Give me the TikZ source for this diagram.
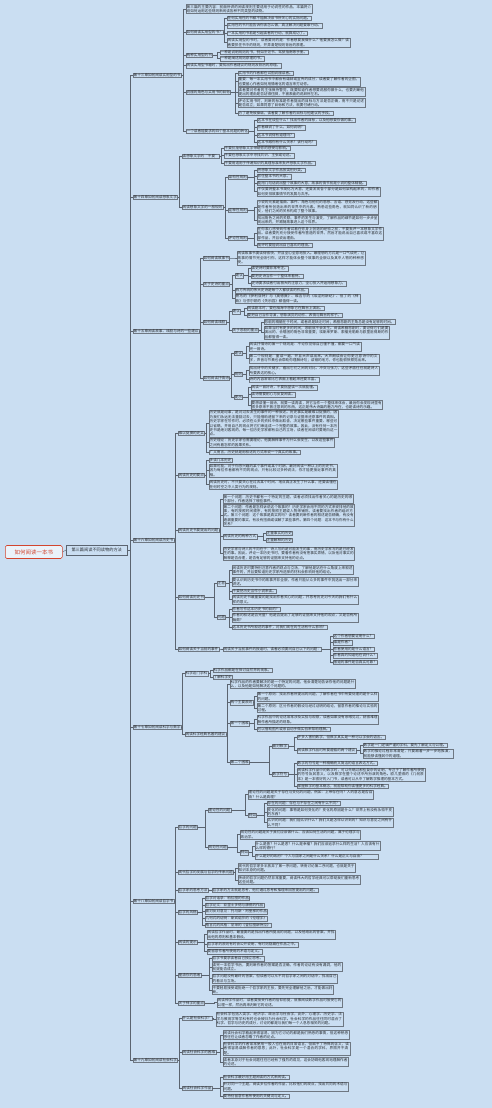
\documentclass[tikz,border=0pt]{standalone}
\usepackage{fontspec}
\usepackage{xcolor}
\usepackage{tikz}
\newfontfamily\cjk{Noto Sans CJK SC}
\XeTeXlinebreaklocale "zh"
\XeTeXlinebreakskip=0pt plus 1pt
\definecolor{bgblue}{HTML}{CADEF2}
\definecolor{linegray}{HTML}{5B6470}
\definecolor{boxgray}{HTML}{6E7782}
\definecolor{textdark}{HTML}{2A2E33}
\definecolor{rootred}{HTML}{D2452F}
\tikzset{
  root/.style={
    rectangle, rounded corners=1.5pt, anchor=west,
    minimum width=57pt, minimum height=13pt,
    draw=rootred, line width=0.6pt, fill=white!60!bgblue,
    text=rootred, font=\cjk\fontsize{5.5}{6.5}\selectfont,
  },
  part/.style={
    rectangle, anchor=west,
    minimum width=61pt, minimum height=9pt,
    draw=linegray, line width=0.4pt,
    text=textdark, font=\cjk\fontsize{4.2}{5}\selectfont,
  },
  topic/.style={
    rectangle, anchor=west, inner sep=0.6pt, align=left,
    draw=boxgray, line width=0.25pt,
    text=textdark, font=\cjk\fontsize{3.6}{4.4}\selectfont,
  },
  chapter/.style={topic},
  leaf/.style={topic},
  link/.style={draw=linegray, line width=0.35pt},
}

\begin{document}
\begin{tikzpicture}[x=1pt,y=-1pt]
  \fill[bgblue] (0,0) rectangle (492,1108);
  \useasboundingbox (0,0) rectangle (492,1108);

  \node[root] (book) at (5,552) {如何阅读一本书};
  \node[part] (part3) at (66,550) {第三篇阅读不同读物的方法};

  % chapter 13
  \node[chapter] (c13) at (133,75) {第十三章如何阅读实用型的书};
  \node[leaf,text width=125pt] (c13a) at (186,9) {第三篇的主要内容：前面所讲的阅读规则主要适用于论说性的作品，本篇将介绍如何运用这些规则来阅读各种不同类型的读物。};
  \node[topic] (c13b) at (186,32) {如何阅读实用型的书？};
  \node[leaf] (c13b1) at (227,18) {任何实用性的书都不能解决该书所关心的实际问题。};
  \node[leaf] (c13b2) at (227,25.5) {实用性的书只能告诉你该怎么做，真正解决问题要靠行动。};
  \node[leaf] (c13b3) at (227,33) {一本实用的书若是引起读者的行动，就算成功了。};
  \node[leaf,text width=122pt] (c13b4) at (227,42.5) {阅读实用型的书时，读者要问的是：作者想要我做什么？他要我怎么做？读者要抓住书中的规则，并弄清楚规则背后的原理。};
  \node[topic] (c13c) at (186,55) {两种实用型的书};
  \node[leaf] (c13c1) at (220,52) {一种是说明规则的书，例如烹饪书、驾驶指南等手册。};
  \node[leaf] (c13c2) at (220,58.5) {一种是阐述规则原理的书。};
  \node[leaf] (c13d) at (186,65.5) {阅读实用型书籍时，要找出作者建议的规则及背后的原理。};
  \node[topic] (c13e) at (186,92) {说服的角色与实用书的目标};
  \node[leaf] (c13e1) at (238,73) {实用书的作者都在试图说服读者。};
  \node[leaf,text width=121pt] (c13e2) at (238,81.5) {重要：每一本实用书中都会有雄辩或宣传的成分，读者要了解作者的企图，也要留心作者如何用情绪化的语言来打动你。};
  \node[leaf,text width=126pt] (c13e3) at (238,92) {读者要对作者的主张保持警觉，既要知道作者想要说服你做什么，也要判断他提出的理由是否站得住脚，不被表面的说辞所左右。};
  \node[leaf,text width=126pt] (c13e4) at (238,103) {评论实用书时，判断的标准是作者提出的目标与方法是否正确，而不只是论述是否成立；如果同意了目标和方法，就要付诸行动。};
  \node[leaf] (c13e5) at (238,113) {为了避免被操纵，读者要了解作者的目标与他建议的手段。};
  \node[topic] (c13f) at (186,131) {一个读者能要求的四个基本问题的转化};
  \node[leaf] (c13f1) at (257,120) {这本书在谈些什么？找出作者的目标，以及他想要你做的事。};
  \node[leaf] (c13f2) at (257,127.5) {作者细说了什么，如何说明？};
  \node[leaf] (c13f3) at (257,135) {这本书说得有道理吗？};
  \node[leaf] (c13f4) at (257,142.5) {这本书跟你有什么关系？该行动吗？};

  % chapter 14
  \node[chapter] (c14) at (133,197) {第十四章如何阅读想象文学};
  \node[topic] (c14a) at (182,156) {读想象文学的“不要”};
  \node[leaf] (c14a1) at (224,148) {不要抗拒想象文学带给你的感受与影响。};
  \node[leaf] (c14a2) at (224,155.5) {不要在想象文学中寻找共识、主张或论述。};
  \node[leaf] (c14a3) at (224,163) {不要用适用于传递知识的真理标准来批评想象文学作品。};
  \node[topic] (c14b) at (182,207) {阅读想象文学的一般规则};
  \node[topic] (c14b1) at (228,177) {架构性规则};
  \node[leaf] (c14b11) at (257,170) {将想象文学作品按类别分类。};
  \node[leaf] (c14b12) at (257,176.5) {抓住整本书的大意。};
  \node[leaf] (c14b13) at (257,183) {能用几句话说出整个故事的大意，故事的情节就是小说的整体精髓。};
  \node[leaf,text width=122pt] (c14b14) at (257,191.5) {不仅要将整本书简化为大意，还要发现各个部分是如何架构起来的，即作者如何安排故事情节的发展与次序。};
  \node[topic] (c14b2) at (228,210) {诠释性规则};
  \node[leaf,text width=120pt] (c14b21) at (257,207) {小说的元素是插曲、事件、角色与他们的思想、言语、感觉及行动，这些都是作者所创造出来的世界中的元素。熟悉这些角色，就如同认识了新的朋友，他们之间的关系构成了整个故事。};
  \node[leaf,text width=120pt] (c14b22) at (257,220) {找出角色之间的关联、事件的发生与演变，了解作品的细节是如何一步步呈现出来的，并跟随故事进入这个世界。};
  \node[topic] (c14b3) at (228,238) {评论性规则};
  \node[leaf,text width=125pt] (c14b31) at (257,233.5) {在你衷心感受到作者试着在你身上创造的经验之前，不要批评一本想象文学作品。读者要先充分接受作者所营造的世界，然后才能说出自己喜欢或不喜欢这部作品，并且说出理由。};
  \node[leaf] (c14b32) at (257,245) {批评时要能说出自己喜欢的理由。};

  % chapter 15
  \node[chapter] (c15) at (133,331) {第十五章阅读故事、戏剧与诗的一些建议};
  \node[topic] (c15a) at (203,258) {如何阅读故事书};
  \node[leaf,text width=127pt] (c15a1) at (237,258) {阅读故事书要读得很快，并且全心全意地投入。最理想的方式是一口气读完，让故事的情节完全吸引你，这样才能体会整个故事的全貌以及其中人物的种种感受。};
  \node[topic] (c15b) at (203,284) {关于史诗的重点};
  \node[topic] (c15b1) at (235,275.5) {建议};
  \node[leaf] (c15b11) at (251,268.5) {读史诗时要非常专注。};
  \node[leaf] (c15b12) at (251,276) {要把史诗当作一个整体来看待。};
  \node[leaf] (c15b13) at (251,283.5) {史诗要求读者付出极大的注意力，全心投入并运用想象力。};
  \node[leaf] (c15b2) at (235,290.5) {西方传统的伟大史诗是每个人都该读的作品。};
  \node[leaf,text width=124pt] (c15b3) at (235,298.5) {荷马的《伊利亚特》与《奥德赛》、维吉尔的《埃涅阿斯纪》、但丁的《神曲》与弥尔顿的《失乐园》都值得一读。};
  \node[topic] (c15c) at (203,322) {如何阅读戏剧};
  \node[topic] (c15c1) at (232,311.5) {建议};
  \node[leaf] (c15c11) at (247,308) {阅读剧本时，要在脑海中想象它在舞台上演出。};
  \node[leaf] (c15c12) at (247,315) {要把自己当作导演，想象演员的动作、表情与舞台的样子。};
  \node[topic] (c15c2) at (232,330) {关于悲剧的重点};
  \node[leaf] (c15c21) at (264,322) {悲剧的精髓在于时间，或者说是缺乏时间；希腊悲剧的主角总是没有足够的时间。};
  \node[leaf,text width=124pt] (c15c22) at (264,332.5) {如果当时有更多的时间，悲剧就不会发生。阅读希腊悲剧时，要记得它们是要演出的，合唱团的角色非常重要；埃斯库罗斯、索福克勒斯与欧里庇得斯的作品都值得一读。};
  \node[topic] (c15d) at (203,378) {如何阅读抒情诗};
  \node[topic] (c15d1) at (234,353) {建议};
  \node[leaf,text width=111pt] (c15d11) at (249,346.5) {阅读抒情诗的第一个规则是：不论你觉得自己懂不懂，都要一口气读完一首诗。};
  \node[leaf,text width=129pt] (c15d12) at (249,358.5) {第二个规则是：重读一遍，并且大声读出来。大声朗读会让你更注意诗中的文字，声音与节奏也会帮助你理解诗句；读错的地方，你也能很快察觉出来。};
  \node[topic] (c15d2) at (234,374) {规则};
  \node[leaf,text width=129pt] (c15d21) at (249,370.5) {找出诗中的关键字，看出它们之间的对比、冲突与张力，这些矛盾往往就是诗人所要表达的核心。};
  \node[leaf] (c15d22) at (249,379.5) {诗的内容常常比它表面上看起来还要丰富。};
  \node[topic] (c15d3) at (234,397) {提示};
  \node[leaf] (c15d31) at (251,387.5) {阅读一首好诗，不要指望读一次就能懂。};
  \node[leaf] (c15d32) at (251,394.5) {读诗需要耐心与反复阅读。};
  \node[leaf,text width=130pt] (c15d33) at (251,405) {要想读懂一首诗，就要一读再读，将它当作一个整体来体会，最后你会发现诗里有很多原来不曾注意到的东西，这正是伟大诗篇的魅力所在，也是读诗的乐趣。};

  % chapter 16
  \node[chapter] (c16) at (133,540) {第十六章如何阅读历史书};
  \node[topic] (c16a) at (178,433) {难以捉摸的史实};
  \node[leaf,text width=128pt] (c16a1) at (209,423.5) {历史就是纪事，是对过去发生的事件的一种叙述。历史事实是最难以捉摸的，因为我们永远无法重回过去，只能借助遗留下来的记录与证据来还原事件的真相。历史学家在写作时，必须在众多的资料中做出取舍，决定哪些事件重要、哪些可以省略，并用自己的观点将它们串连成一个完整的故事。因此，没有任何一本历史书是绝对客观的，每一位历史学家都有自己的立场，读者在阅读时要明白这一点。};
  \node[leaf,text width=124pt] (c16a2) at (209,442.5) {历史理论：历史学家也需要理论，他要解释事件为什么会发生，以及这些事件之间有着怎样的因果关系。};
  \node[leaf] (c16a3) at (209,452) {广义而言，历史就是用叙述的方式来说一个真实的故事。};
  \node[topic] (c16b) at (178,475) {阅读历史的要点};
  \node[leaf] (c16b1) at (209,460) {多读几本历史};
  \node[leaf,text width=127pt] (c16b2) at (209,470.5) {如果可能，对于你感兴趣的某个事件或某个时期，最好阅读一种以上的历史书，因为每位作者都有不同的观点，只有比较过多种说法，你才能更接近事件的真相。};
  \node[leaf,text width=127pt] (c16b3) at (209,484.5) {阅读历史时，不只要关心在过去某个时间、地点真正发生了什么事，还要读懂在任何时空之中人类行为的规则。};
  \node[topic] (c16c) at (178,530) {阅读历史书要提出的问题};
  \node[leaf,text width=129pt] (c16c1) at (223,499) {第一个问题：历史书都有一个特定的主题，读者必须找出作者关心的是历史的哪个部分，作者选择了哪些事件。};
  \node[leaf,text width=130pt] (c16c2) at (223,515.5) {第二个问题：作者是怎样诉说这个故事的？历史学家会用不同的方式来安排他的故事，有的按照时间顺序，有的按照主题或人物来铺陈，读者要找出作者的组织方式。第三个问题：这个故事是真实的吗？读者要判断作者的叙述是否精确，有没有遗漏重要的事实，有没有扭曲或误解了某些事件。第四个问题：这本书与你有什么关系？};
  \node[topic] (c16c3) at (223,536.5) {阅读历史的两种方式};
  \node[leaf] (c16c31) at (266,533) {注重事实的历史};
  \node[leaf] (c16c32) at (266,540) {注重解释的历史};
  \node[leaf,text width=130pt] (c16c4) at (223,553.5) {历史学家与诗人的不同在于：诗人写的是可能发生的事，而历史学家写的是已经发生的事。因此，评论一本历史书时，要看作者有没有把事实弄错，以及他对事实的解释是否合理，是否有足够的证据来支持他的论点。};
  \node[topic] (c16d) at (178,597) {如何阅读历史书};
  \node[topic] (c16d1) at (217,583.5) {注意};
  \node[leaf,text width=120pt] (c16d11) at (232,570) {阅读历史时要特别注意作者的观点与立场，了解他是站在什么角度上来叙述事件的，并且要知道历史学家所选择的材料会影响到他的结论。};
  \node[leaf,text width=125pt] (c16d12) at (232,582) {要认识到历史书中的故事并非全貌，作者只能从众多的事件中挑选出一部分来讲述。};
  \node[leaf] (c16d13) at (232,591) {不要把历史当作小说来读。};
  \node[leaf,text width=125pt] (c16d14) at (232,599.5) {阅读历史书最重要的是找出作者关心的问题，并思考历史对今天的我们有什么样的意义。};
  \node[topic] (c16d2) at (217,617) {问题};
  \node[leaf] (c16d21) at (232,609) {作者写作这本历史书的目的？};
  \node[leaf,text width=125pt] (c16d22) at (232,617.5) {作者的叙述是否完整？他是否提出了足够的证据来支持他的观点，又是否有所偏颇？};
  \node[leaf] (c16d23) at (232,627) {这本历史书所叙述的事件，对我们现在的生活有什么影响？};
  \node[topic] (c16e) at (178,649) {如何阅读关于当前的事件};
  \node[leaf] (c16e1) at (223,649) {阅读关于当前事件的报道时，读者必须要问自己以下的问题：};
  \node[leaf] (c16e11) at (333,636) {这个作者想要证明什么？};
  \node[leaf] (c16e12) at (333,642.5) {谁是作者？};
  \node[leaf] (c16e13) at (333,649) {作者使用的是什么语言？};
  \node[leaf] (c16e14) at (333,655.5) {作者真的知道他在说什么？};
  \node[leaf] (c16e15) at (333,662) {报道的事件是否真实可靠？};

  % chapter 17
  \node[chapter] (c17) at (133,727) {第十七章如何阅读科学与数学};
  \node[topic] (c17a) at (185,673.5) {科学这门学科};
  \node[leaf] (c17a1) at (213,670) {科学作品都是在探讨自然界的现象。};
  \node[leaf] (c17a2) at (213,677) {了解科学史};
  \node[topic] (c17b) at (185,734) {阅读科学经典名著的建议};
  \node[leaf,text width=124pt] (c17b1) at (230,684) {科学作品的作者要解决的是一个特定的问题，他会清楚地告诉你他的问题是什么，以及他是如何解决这个问题的。};
  \node[topic] (c17b2) at (230,702.5) {两个主要原则};
  \node[leaf,text width=120pt] (c17b21) at (257,696.5) {第一个原则：找出作者所提出的问题，了解作者在书中所要处理的是什么样的问题。};
  \node[leaf,text width=120pt] (c17b22) at (257,708) {第二个原则：区分作者的假设与经过证明的结论，留意作者的推论与实验的过程。};
  \node[topic] (c17b3) at (230,723.5) {第一个困难};
  \node[leaf,text width=120pt] (c17b31) at (257,719.5) {科学作品中的论述常常涉及实验与观察，读者如果没有亲眼见过，就很难理解作者所描述的现象。};
  \node[leaf] (c17b32) at (257,729) {可以借助图片或亲自动手做实验来帮助理解。};
  \node[topic] (c17b4) at (230,762) {第二个困难};
  \node[topic] (c17b41) at (272,746) {面对数学};
  \node[leaf] (c17b411) at (297,737) {许多人害怕数学，但数学其实是一种可以学会的语言。};
  \node[topic] (c17b412) at (297,750.5) {阅读数学作品时所要遵循的两个建议};
  \node[leaf] (c17b4121) at (363,745) {数学是一门逻辑严谨的学科，要先了解定义与公理。};
  \node[leaf,text width=89pt] (c17b4122) at (363,753.5) {数学的推论过程非常清楚，只要跟着一步一步地推演，就能够读懂其中的道理。};
  \node[topic] (c17b42) at (272,774) {数学符号};
  \node[leaf] (c17b421) at (297,763) {数学的符号是一种精确而又简洁的语言表达方式。};
  \node[leaf,text width=127pt] (c17b422) at (297,774.5) {阅读科学作品中的数学时，可以先略过那些复杂的证明，专注于了解作者所使用的符号及其意义，以及数学在整个论述中所扮演的角色。欧几里得的《几何原本》是一本很好的入门书，读者可以从中了解数学推理的基本方式。};
  \node[leaf] (c17b423) at (297,786) {掌握数学的基本概念，就能帮助你读懂更多的科学经典。};

  % chapter 18
  \node[chapter] (c18) at (133,901) {第十八章如何阅读哲学书};
  \node[topic] (c18a) at (178,827) {哲学的问题};
  \node[topic] (c18a1) at (208,810) {理论性的问题};
  \node[leaf,text width=124pt] (c18a11) at (248,794.5) {理论性的问题是关于存在与变化的问题，例如：上帝存在吗？人的意志是否自由？什么是真理？};
  \node[topic] (c18a12) at (248,815) {例如};
  \node[leaf] (c18a121) at (267,803) {存在的问题：存在与不存在之间有什么不同？};
  \node[leaf,text width=125pt] (c18a122) at (267,812) {变化的问题：事物是如何变化的？变化的原因是什么？世界上有没有永恒不变的东西？};
  \node[leaf,text width=125pt] (c18a123) at (267,822.5) {认识的问题：我们能认识什么？我们又是怎样认识到的？知识与意见之间有什么不同？};
  \node[topic] (c18a2) at (208,847) {规范性问题};
  \node[leaf,text width=119pt] (c18a21) at (240,834.5) {规范性的问题是关于我们应该做什么、应该如何生活的问题，属于伦理学与政治学。};
  \node[topic] (c18a22) at (240,852.5) {例如};
  \node[leaf,text width=124pt] (c18a221) at (255,846) {什么是善？什么是恶？什么是幸福？我们应该追求什么样的生活？人应该有什么样的德行？};
  \node[leaf,text width=122pt] (c18a222) at (255,856.5) {什么是好的政府？个人与国家之间是什么关系？什么是正义与自由？};
  \node[topic] (c18b) at (178,872) {现代哲学的发展与哲学的传承问题};
  \node[leaf,text width=116pt] (c18b1) at (238,868) {现代的哲学家多半放弃了第一序问题，转而讨论第二序问题，也就是关于知识本身的问题。};
  \node[leaf,text width=121pt] (c18b2) at (238,880) {传统的哲学问题仍然非常重要，阅读伟大的哲学经典可以帮助我们重新思考这些问题。};
  \node[topic] (c18c) at (178,890) {哲学家的思考方法};
  \node[leaf] (c18c1) at (212,890) {哲学家的方法就是思考，他们通过思考和推理来回答提出的问题。};
  \node[topic] (c18d) at (178,912) {哲学的风格};
  \node[leaf] (c18d1) at (205,898) {哲学对话录：柏拉图的作品};
  \node[leaf] (c18d2) at (205,905) {哲学论文：亚里士多德与康德的作品};
  \node[leaf] (c18d3) at (205,911.5) {面对反对意见：托马斯·阿奎那的作品};
  \node[leaf] (c18d4) at (205,918.5) {几何式的证明：斯宾诺莎的《伦理学》};
  \node[leaf] (c18d5) at (205,925) {格言式的风格：尼采的《查拉图斯特拉》};
  \node[topic] (c18e) at (178,942) {阅读的提示};
  \node[leaf,text width=127pt] (c18e1) at (207,934.5) {阅读哲学作品时，最重要的是找出作者所提出的问题，以及他给出的答案，并找出他的原则和基本假设。};
  \node[leaf] (c18e2) at (207,944.5) {哲学家的原则有时会公开说明，有时则隐藏在作品之中。};
  \node[leaf] (c18e3) at (207,951.5) {要留意作者所使用的术语与定义。};
  \node[topic] (c18f) at (178,975) {厘清你的思绪};
  \node[leaf] (c18f1) at (212,958.5) {哲学书要求读者自己独立思考。};
  \node[leaf,text width=129pt] (c18f2) at (212,967) {读完一本哲学书后，要判断作者的答案是否正确，作者的论证有没有漏洞，他的前提能否成立。};
  \node[leaf,text width=124pt] (c18f3) at (212,978.5) {哲学问题没有最终的答案，但读者可以从不同哲学家之间的对话中，找出自己的看法与立场。};
  \node[leaf,text width=120pt] (c18f4) at (212,990) {不要轻易接受或拒绝一个哲学家的主张，要先完全理解他之后，才能做出判断。};
  \node[topic] (c18g) at (178,1003) {关于神学的重点};
  \node[leaf,text width=124pt] (c18g1) at (217,1002.5) {阅读神学作品时，读者要接受作者的信仰前提，就像阅读数学作品时接受它的公理一样，然后再来判断它的论述。};

  % chapter 19
  \node[chapter] (c19) at (133,1060) {第十九章如何阅读社会科学};
  \node[topic] (c19a) at (182,1018) {什么是社会科学？};
  \node[leaf,text width=126pt] (c19a1) at (216,1019) {社会科学包括人类学、经济学、政治学与社会学，此外，心理学、历史学、法学与教育学等学科有时也会被归为社会科学。社会科学的作品往往同时混合了科学、哲学与历史的成分，讨论的都是与我们每一个人息息相关的问题。};
  \node[topic] (c19b) at (182,1052) {阅读社会科学的困难};
  \node[leaf,text width=125pt] (c19b1) at (223,1035) {阅读社会科学看起来很容易，因为它讨论的都是我们熟悉的事情，但这种熟悉感往往让读者忽略了作者的论点。};
  \node[leaf,text width=126pt] (c19b2) at (223,1048.5) {社会科学的作者常常使用一般人也在用的日常语言，但赋予了特殊的含义，读者很容易误解作者的意思；此外，社会科学是一个混合的学科，界限并不清楚。};
  \node[leaf,text width=124pt] (c19b3) at (223,1062) {读者本身对于社会问题往往已经有了强烈的成见，这会妨碍他客观地理解作者的论述。};
  \node[topic] (c19c) at (182,1088) {阅读社会科学作品};
  \node[leaf] (c19c1) at (223,1077) {社会科学最好用主题阅读的方式来阅读。};
  \node[leaf,text width=124pt] (c19c2) at (223,1086.5) {针对同一个主题，阅读多位作者的作品，比较他们的观点，找出共同的术语与问题。};
  \node[leaf] (c19c3) at (223,1096) {要特别留意作者所使用的关键词与定义。};

  % connectors
  \draw[link] (book.east) -- (part3.west);
  \foreach \c in {c13,c14,c15,c16,c17,c18,c19}
    \draw[link] (part3.east) -| ([xshift=-3pt]\c.west) -- (\c.west);
  \foreach \p/\cs in {c13/{c13a,c13b,c13c,c13d,c13e,c13f},
      c13b/{c13b1,c13b2,c13b3,c13b4}, c13c/{c13c1,c13c2},
      c13e/{c13e1,c13e2,c13e3,c13e4,c13e5}, c13f/{c13f1,c13f2,c13f3,c13f4},
      c14/{c14a,c14b}, c14a/{c14a1,c14a2,c14a3}, c14b/{c14b1,c14b2,c14b3},
      c14b1/{c14b11,c14b12,c14b13,c14b14}, c14b2/{c14b21,c14b22}, c14b3/{c14b31,c14b32},
      c15/{c15a,c15b,c15c,c15d}, c15a/{c15a1}, c15b/{c15b1,c15b2,c15b3},
      c15b1/{c15b11,c15b12,c15b13}, c15c/{c15c1,c15c2}, c15c1/{c15c11,c15c12},
      c15c2/{c15c21,c15c22}, c15d/{c15d1,c15d2,c15d3}, c15d1/{c15d11,c15d12},
      c15d2/{c15d21,c15d22}, c15d3/{c15d31,c15d32,c15d33},
      c16/{c16a,c16b,c16c,c16d,c16e}, c16a/{c16a1,c16a2,c16a3}, c16b/{c16b1,c16b2,c16b3},
      c16c/{c16c1,c16c2,c16c3,c16c4}, c16c3/{c16c31,c16c32}, c16d/{c16d1,c16d2},
      c16d1/{c16d11,c16d12,c16d13,c16d14}, c16d2/{c16d21,c16d22,c16d23}, c16e/{c16e1},
      c16e1/{c16e11,c16e12,c16e13,c16e14,c16e15},
      c17/{c17a,c17b}, c17a/{c17a1,c17a2}, c17b/{c17b1,c17b2,c17b3,c17b4},
      c17b2/{c17b21,c17b22}, c17b3/{c17b31,c17b32}, c17b4/{c17b41,c17b42},
      c17b41/{c17b411,c17b412}, c17b412/{c17b4121,c17b4122}, c17b42/{c17b421,c17b422,c17b423},
      c18/{c18a,c18b,c18c,c18d,c18e,c18f,c18g}, c18a/{c18a1,c18a2}, c18a1/{c18a11,c18a12},
      c18a12/{c18a121,c18a122,c18a123}, c18a2/{c18a21,c18a22}, c18a22/{c18a221,c18a222},
      c18b/{c18b1,c18b2}, c18c/{c18c1}, c18d/{c18d1,c18d2,c18d3,c18d4,c18d5},
      c18e/{c18e1,c18e2,c18e3}, c18f/{c18f1,c18f2,c18f3,c18f4}, c18g/{c18g1},
      c19/{c19a,c19b,c19c}, c19a/{c19a1}, c19b/{c19b1,c19b2,c19b3}, c19c/{c19c1,c19c2,c19c3}}
    \foreach \c in \cs
      \draw[link] (\p.east) -| ([xshift=-3pt]\c.west) -- (\c.west);
\end{tikzpicture}
\end{document}
